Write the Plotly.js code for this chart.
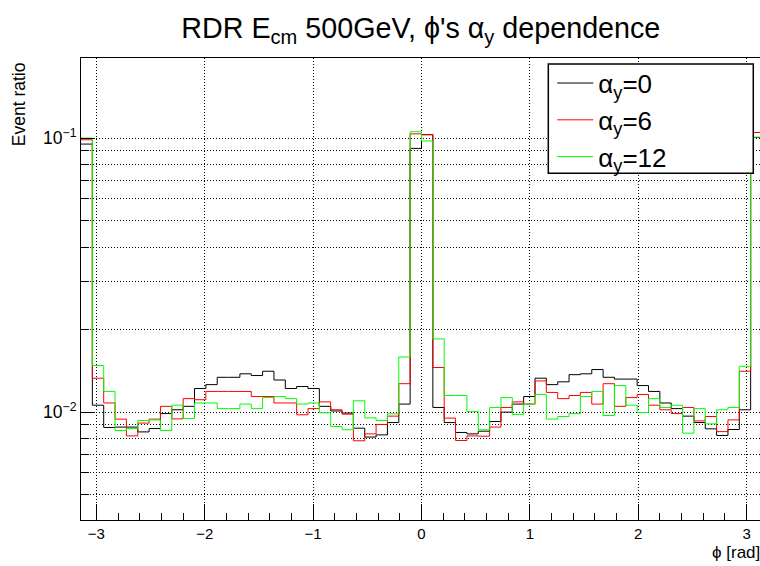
<!DOCTYPE html>
<html>
<head>
<meta charset="utf-8">
<script src="https://cdn.plot.ly/plotly-3.0.1.min.js"></script>
<style>
  html, body { margin: 0; padding: 0; overflow: hidden; background: #fff; }
  #chart { width: 762px; height: 566px; }
</style>
</head>
<body>
<div id="chart"></div>
<script>
// ---- data (60 bins over [-pi, pi]) ----
const nBins = 60;
const phiMin = -Math.PI;
const phiMax = Math.PI;

const seriesNames = ['α<sub>y</sub>=0', 'α<sub>y</sub>=6', 'α<sub>y</sub>=12'];
const seriesColors = ['#000000', '#ff0000', '#00ff00'];

const alpha0 = [
  0.0951, 0.0106, 0.00879, 0.00882, 0.00882, 0.00847, 0.00871, 0.00988, 0.0102, 0.0105,
  0.0122, 0.0126, 0.0134, 0.0134, 0.0138, 0.0136, 0.0141, 0.0131, 0.0122, 0.0124,
  0.0122, 0.0105, 0.0101, 0.00992, 0.00874, 0.00811, 0.00826, 0.00916, 0.0107, 0.0917,
  0.103, 0.0104, 0.00916, 0.00843, 0.00833, 0.00852, 0.00924, 0.0100, 0.0107, 0.0114,
  0.0133, 0.0126, 0.0129, 0.0137, 0.0138, 0.0143, 0.0134, 0.0132, 0.0132, 0.0125,
  0.0119, 0.0108, 0.0103, 0.00967, 0.00916, 0.00869, 0.00822, 0.00864, 0.0102, 0.1005
];
const alpha6 = [
  0.0986, 0.0133, 0.0108, 0.00943, 0.00819, 0.00912, 0.00943, 0.0105, 0.00945, 0.0112,
  0.0111, 0.0119, 0.0119, 0.0119, 0.0119, 0.0114, 0.0114, 0.0108, 0.0108, 0.00978,
  0.0103, 0.0109, 0.0102, 0.00983, 0.00786, 0.00833, 0.00901, 0.00967, 0.0127, 0.1036,
  0.1028, 0.01455, 0.00951, 0.00788, 0.00819, 0.00817, 0.00882, 0.0104, 0.0109, 0.0107,
  0.0130, 0.0118, 0.0112, 0.0115, 0.0118, 0.0107, 0.0127, 0.0105, 0.0113, 0.0116,
  0.0106, 0.0102, 0.00988, 0.0104, 0.00929, 0.00964, 0.00849, 0.00937, 0.0141, 0.1048
];
const alpha12 = [
  0.1000, 0.0148, 0.0119, 0.00857, 0.00871, 0.00932, 0.00937, 0.00857, 0.0106, 0.00948,
  0.0108, 0.0108, 0.0103, 0.0103, 0.0107, 0.0103, 0.0113, 0.0114, 0.0112, 0.0107,
  0.0108, 0.00994, 0.00886, 0.00862, 0.0110, 0.00953, 0.00932, 0.00986, 0.0159, 0.1055,
  0.0976, 0.0185, 0.0115, 0.0115, 0.01005, 0.00862, 0.0104, 0.0113, 0.0098, 0.0107,
  0.0116, 0.00943, 0.00964, 0.00988, 0.0114, 0.0119, 0.00972, 0.0125, 0.0106, 0.00997,
  0.0112, 0.0104, 0.0106, 0.00838, 0.0103, 0.00906, 0.0102, 0.0104, 0.0147, 0.1008
];

const xTickVals = [-3, -2, -1, 0, 1, 2, 3];
const xTickText = ['\u22123', '\u22122', '\u22121', '0', '1', '2', '3'];
const yMajorVals = [0.01, 0.1];
const yMajorText = ['10<sup>\u22122</sup>', '10<sup>\u22121</sup>'];
const yMinorVals = [0.005, 0.006, 0.007, 0.008, 0.009, 0.02, 0.03, 0.04, 0.05, 0.06, 0.07, 0.08, 0.09];

// ---- build step traces ----
const binW = (phiMax - phiMin) / nBins;
const edges = [];
for (let i = 0; i <= nBins; i++) edges.push(phiMin + i * binW);

function stepTrace(vals, name, color) {
  const xs = edges.slice();            // left edges + final right edge
  const ys = vals.concat([vals[vals.length - 1]]);
  return {
    type: 'scatter', mode: 'lines', x: xs, y: ys, name: name,
    line: { shape: 'hv', color: color, width: 1 },
    hoverinfo: 'skip'
  };
}

const traces = [
  stepTrace(alpha0, seriesNames[0], seriesColors[0]),
  stepTrace(alpha6, seriesNames[1], seriesColors[1]),
  stepTrace(alpha12, seriesNames[2], seriesColors[2])
];

const gridDash = '1px,2px';
const font = 'Liberation Sans, Arial, Helvetica, sans-serif';

const layout = {
  width: 762, height: 566,
  margin: { l: 81, r: 0, t: 58, b: 46, pad: 0 },
  paper_bgcolor: '#ffffff', plot_bgcolor: '#ffffff',
  font: { family: font, color: '#000', size: 15 },
  title: {
    text: 'RDR E<sub>cm</sub> 500GeV, \u03d5\'s \u03b1<sub>y</sub> dependence',
    font: { family: font, size: 28.7, color: '#000' },
    x: 0.499, xanchor: 'center', y: 0.95, yanchor: 'middle', xref: 'paper'
  },
  showlegend: true,
  legend: {
    x: 0.692, xanchor: 'left', y: 0.9965, yanchor: 'top',
    bgcolor: 'rgba(0,0,0,0)', borderwidth: 0,
    font: { family: font, size: 26, color: '#000' },
    itemwidth: 36, tracegroupgap: 0
  },
  xaxis: {
    range: [phiMin, phiMax], autorange: false,
    tickmode: 'array', tickvals: xTickVals, ticktext: xTickText,
    ticks: 'inside', ticklen: 16, tickwidth: 1, tickcolor: '#000',
    tickfont: { family: font, size: 15, color: '#000' },
    showgrid: true, gridcolor: '#000', gridwidth: 1, griddash: gridDash,
    showline: true, linecolor: '#000', linewidth: 1, mirror: true,
    zeroline: false,
    minor: { tickmode: 'linear', tick0: 0, dtick: 0.2, ticks: 'inside', ticklen: 7, tickwidth: 1, tickcolor: '#000', showgrid: false }
  },
  yaxis: {
    type: 'log',
    range: [Math.log10(0.00404), Math.log10(0.196)], autorange: false,
    tickmode: 'array', tickvals: yMajorVals, ticktext: yMajorText,
    ticks: 'inside', ticklen: 14, tickwidth: 1, tickcolor: '#000',
    tickfont: { family: font, size: 17.5, color: '#000' },
    showgrid: true, gridcolor: '#000', gridwidth: 1, griddash: gridDash,
    showline: true, linecolor: '#000', linewidth: 1, mirror: true,
    zeroline: false,
    minor: { tickmode: 'array', tickvals: yMinorVals, ticks: 'inside', ticklen: 8, tickwidth: 1, tickcolor: '#000',
             showgrid: true, gridcolor: '#000', gridwidth: 1, griddash: gridDash }
  },
  shapes: [{
    type: 'rect', xref: 'paper', yref: 'paper', layer: 'above',
    x0: 0.6862, x1: 0.9872, y0: 0.7504, y1: 0.987,
    fillcolor: '#ffffff', line: { color: '#000', width: 1.5 }
  }],
  annotations: [
    { text: 'Event ratio', xref: 'paper', yref: 'paper', x: -0.092, y: 0.996, xanchor: 'center', yanchor: 'top',
      textangle: -90, showarrow: false, font: { family: font, size: 17.5, color: '#000' } },
    { text: '\u03d5 [rad]', xref: 'paper', yref: 'paper', x: 1.0, y: -0.045, xanchor: 'right', yanchor: 'top',
      showarrow: false, font: { family: font, size: 17, color: '#000' } }
  ]
};

Plotly.newPlot('chart', traces, layout, { staticPlot: true, displayModeBar: false });
</script>
</body>
</html>
